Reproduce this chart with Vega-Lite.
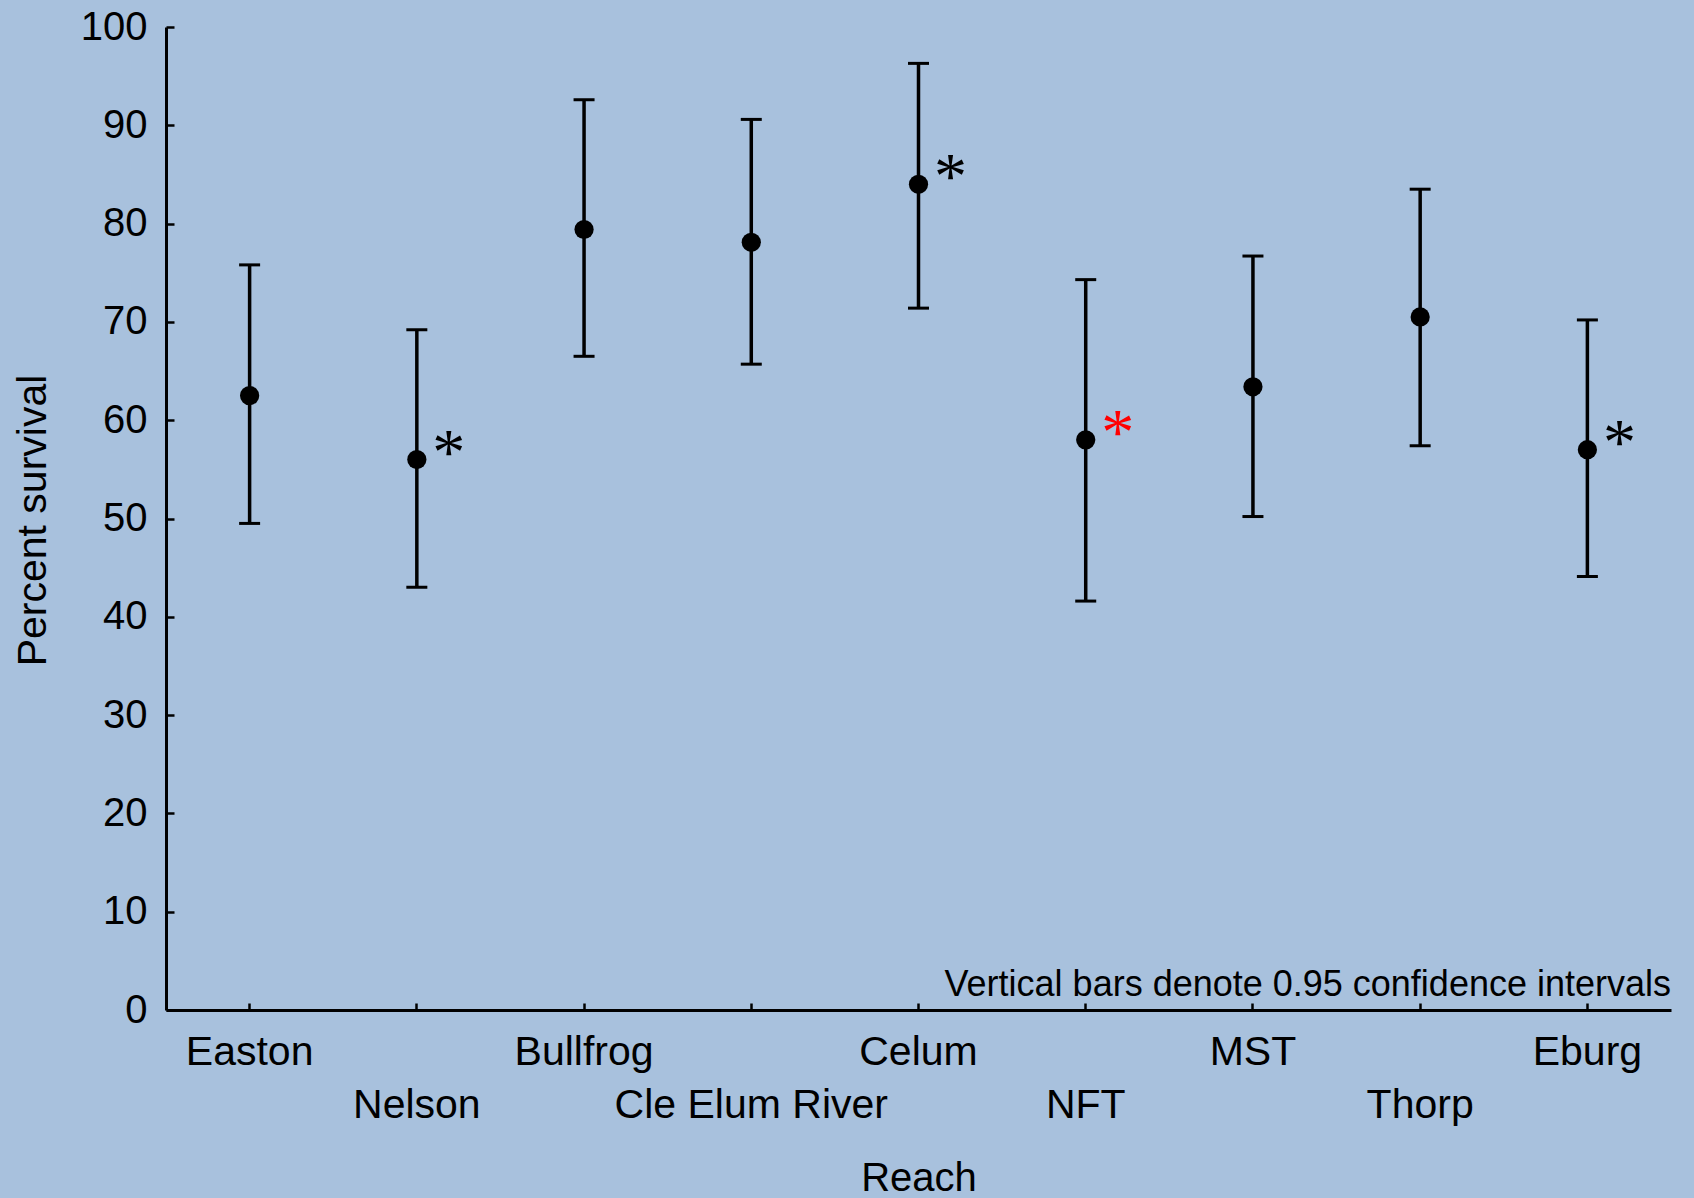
{
  "$schema": "https://vega.github.io/schema/vega-lite/v6.json",
  "width": 1505,
  "height": 983,
  "autosize": {"type": "none"},
  "padding": {"left": 166, "top": 27, "right": 23, "bottom": 188},
  "background": "#a8c1dd",
  "config": {"view": {"stroke": null}, "font": "Liberation Sans"},
  "data": {
    "values": [
      {"reach": "Easton", "mean": 62.5, "lower": 49.5, "upper": 75.8, "significant": false},
      {"reach": "Nelson", "mean": 56.0, "lower": 43.0, "upper": 69.2, "significant": true},
      {"reach": "Bullfrog", "mean": 79.4, "lower": 66.5, "upper": 92.6, "significant": false},
      {"reach": "Cle Elum River", "mean": 78.1, "lower": 65.7, "upper": 90.6, "significant": false},
      {"reach": "Celum", "mean": 84.0, "lower": 71.4, "upper": 96.3, "significant": true},
      {"reach": "NFT", "mean": 58.0, "lower": 41.6, "upper": 74.3, "significant": true},
      {"reach": "MST", "mean": 63.4, "lower": 50.2, "upper": 76.7, "significant": false},
      {"reach": "Thorp", "mean": 70.5, "lower": 57.4, "upper": 83.5, "significant": false},
      {"reach": "Eburg", "mean": 57.0, "lower": 44.1, "upper": 70.2, "significant": true}
    ]
  },
  "encoding": {
    "x": {
      "field": "reach",
      "type": "nominal",
      "sort": null,
      "scale": {
        "domain": ["Easton", "Nelson", "Bullfrog", "Cle Elum River", "Celum", "NFT", "MST", "Thorp", "Eburg"],
        "paddingInner": 0,
        "paddingOuter": 0
      },
      "axis": {
        "title": "Reach",
        "labelAngle": 0,
        "labelFont": "Liberation Sans",
        "labelFontSize": 41,
        "labelColor": "black",
        "labelBaseline": "top",
        "labelAlign": "center",
        "labelLineHeight": 53,
        "labelPadding": 29,
        "labelExpr": "indexof(['Nelson','Cle Elum River','NFT','Thorp'], datum.label) >= 0 ? ['', datum.label] : datum.label",
        "labelOverlap": false,
        "labelBound": false,
        "labelLimit": 0,
        "tickSize": -7,
        "tickWidth": 2.5,
        "tickColor": "black",
        "domainColor": "black",
        "domainWidth": 3,
        "titleFont": "Liberation Sans",
        "titleFontSize": 40,
        "titleFontWeight": "normal",
        "titleColor": "black",
        "titleY": 180,
        "titleBaseline": "alphabetic"
      }
    }
  },
  "layer": [
    {
      "mark": {"type": "rule", "strokeWidth": 3.5, "color": "black"},
      "encoding": {
        "y": {
          "field": "lower",
          "type": "quantitative",
          "title": "Percent survival",
          "scale": {"domain": [0, 100], "nice": false, "zero": true},
          "axis": {
            "values": [0, 10, 20, 30, 40, 50, 60, 70, 80, 90, 100],
            "grid": false,
            "domainColor": "black",
            "domainWidth": 3,
            "tickColor": "black",
            "tickWidth": 2.5,
            "tickSize": -8,
            "labelFont": "Liberation Sans",
            "labelFontSize": 40,
            "labelColor": "black",
            "labelPadding": 27,
            "labelFlush": false,
            "labelBound": false,
            "labelOverlap": false,
            "titleFont": "Liberation Sans",
            "titleFontSize": 41,
            "titleFontWeight": "normal",
            "titleColor": "black",
            "titleAngle": -90,
            "titleX": -121,
            "titleY": 493,
            "titleAlign": "center",
            "titleBaseline": "alphabetic"
          }
        },
        "y2": {"field": "upper"}
      }
    },
    {
      "mark": {"type": "tick", "size": 21, "thickness": 3, "color": "black", "opacity": 1},
      "encoding": {"y": {"field": "upper", "type": "quantitative", "title": "Percent survival"}}
    },
    {
      "mark": {"type": "tick", "size": 21, "thickness": 3, "color": "black", "opacity": 1},
      "encoding": {"y": {"field": "lower", "type": "quantitative", "title": "Percent survival"}}
    },
    {
      "mark": {"type": "circle", "size": 370, "opacity": 1, "color": "black"},
      "encoding": {"y": {"field": "mean", "type": "quantitative", "title": "Percent survival"}}
    },
    {
      "transform": [{"filter": "datum.significant"}],
      "mark": {"type": "text", "text": "*", "font": "Liberation Serif", "fontSize": 66, "dx": 32, "dy": -6, "baseline": "middle", "align": "center"},
      "encoding": {
        "y": {"field": "mean", "type": "quantitative", "title": "Percent survival"},
        "color": {"condition": {"test": "datum.reach === 'NFT'", "value": "#ff0000"}, "value": "black"}
      }
    },
    {
      "data": {"values": [{"note": "Vertical bars denote 0.95 confidence intervals", "reach": "Eburg", "pos": 0}]},
      "mark": {"type": "text", "align": "right", "baseline": "alphabetic", "fontSize": 36, "font": "Liberation Sans", "dy": -14, "color": "black"},
      "encoding": {
        "x": {"field": "reach", "type": "nominal", "bandPosition": 1},
        "y": {"field": "pos", "type": "quantitative", "title": "Percent survival"},
        "text": {"field": "note"}
      }
    }
  ]
}
